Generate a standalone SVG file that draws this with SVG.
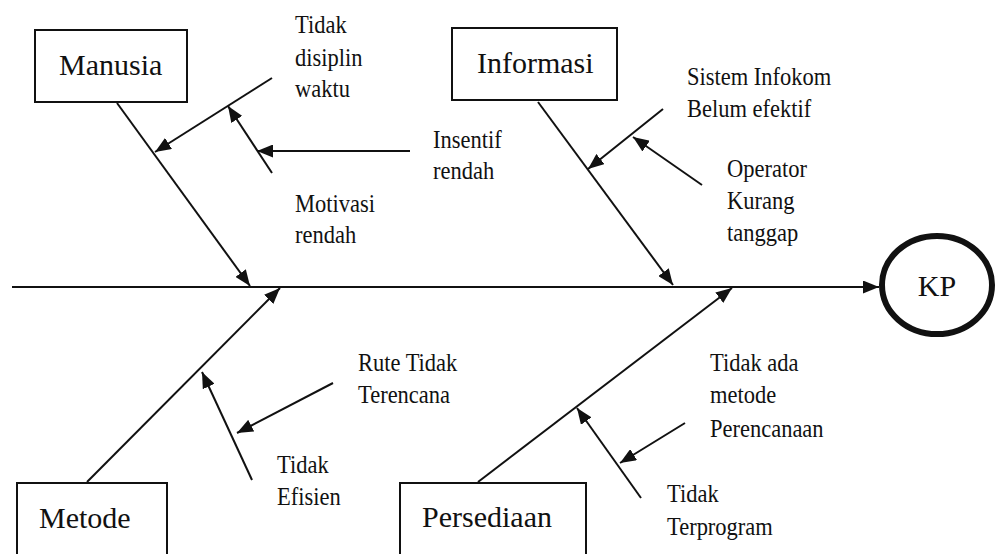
<svg xmlns="http://www.w3.org/2000/svg" width="1000" height="554" viewBox="0 0 1000 554">
<style>
.box{fill:#fff;stroke:#111;stroke-width:2}
.ln{fill:none;stroke:#111;stroke-width:2;marker-end:url(#ah)}
text{fill:#111}
</style>
<defs>
<marker id="ah" viewBox="0 0 16 13" refX="16" refY="6.5" markerWidth="16" markerHeight="13" markerUnits="userSpaceOnUse" orient="auto">
<path d="M0,0 L16,6.5 L0,13 z" fill="#111"/>
</marker>
</defs>
<rect width="1000" height="554" fill="#fff"/>
<g id="connectors">
<path class="ln" d="M12,287 L879,287"/>
<path class="ln" d="M117,103 L250,286"/>
<path class="ln" d="M272,78 L155,152"/>
<path class="ln" d="M272,173 L228,106"/>
<path class="ln" d="M410,151 L257,151"/>
<path class="ln" d="M538,102 L673,285"/>
<path class="ln" d="M663,109 L588,169"/>
<path class="ln" d="M702,185 L633,137"/>
<path class="ln" d="M87,482 L280,288"/>
<path class="ln" d="M333,383 L237,433"/>
<path class="ln" d="M252,480 L202,372"/>
<path class="ln" d="M478,482 L732,288"/>
<path class="ln" d="M685,423 L620,463"/>
<path class="ln" d="M641,498 L577,408"/>
</g>
<g font-family="Liberation Serif, Times New Roman, serif" font-size="30">
<g id="manusia">
<rect class="box" x="35" y="30" width="152" height="72"/>
<text x="59" y="75">Manusia</text>
</g>
<g id="informasi">
<rect class="box" x="452" y="28" width="165" height="72"/>
<text x="477" y="73">Informasi</text>
</g>
<g id="metode">
<rect class="box" x="17" y="483" width="150" height="80"/>
<text x="39" y="528">Metode</text>
</g>
<g id="persediaan">
<rect class="box" x="400" y="483" width="186" height="80"/>
<text x="422" y="527">Persediaan</text>
</g>
<g id="kp">
<ellipse cx="937" cy="285" rx="55" ry="49" fill="#fff" stroke="#111" stroke-width="6"/>
<text x="937" y="296" text-anchor="middle">KP</text>
</g>
</g>
<g font-family="Liberation Serif, Times New Roman, serif" font-size="25">
<g id="label-tidak-disiplin">
<text transform="translate(295 33) scale(0.9 1)"><tspan x="0" y="0">Tidak</tspan><tspan x="0" y="33">disiplin</tspan><tspan x="0" y="64">waktu</tspan></text>
</g>
<g id="label-insentif">
<text transform="translate(433 148) scale(0.9 1)"><tspan x="0" y="0">Insentif</tspan><tspan x="0" y="31">rendah</tspan></text>
</g>
<g id="label-motivasi">
<text transform="translate(295 212) scale(0.9 1)"><tspan x="0" y="0">Motivasi</tspan><tspan x="0" y="31">rendah</tspan></text>
</g>
<g id="label-sistem">
<text transform="translate(687 85) scale(0.9 1)"><tspan x="0" y="0">Sistem  Infokom</tspan><tspan x="0" y="32">Belum efektif</tspan></text>
</g>
<g id="label-operator">
<text transform="translate(727 177) scale(0.9 1)"><tspan x="0" y="0">Operator</tspan><tspan x="0" y="32">Kurang</tspan><tspan x="0" y="64">tanggap</tspan></text>
</g>
<g id="label-rute">
<text transform="translate(358 371) scale(0.9 1)"><tspan x="0" y="0">Rute Tidak</tspan><tspan x="0" y="32">Terencana</tspan></text>
</g>
<g id="label-efisien">
<text transform="translate(277 473) scale(0.9 1)"><tspan x="0" y="0">Tidak</tspan><tspan x="0" y="32">Efisien</tspan></text>
</g>
<g id="label-tidak-ada">
<text transform="translate(710 371) scale(0.9 1)"><tspan x="0" y="0">Tidak ada</tspan><tspan x="0" y="32">metode</tspan><tspan x="0" y="66">Perencanaan</tspan></text>
</g>
<g id="label-terprogram">
<text transform="translate(667 502) scale(0.9 1)"><tspan x="0" y="0">Tidak</tspan><tspan x="0" y="33">Terprogram</tspan></text>
</g>
</g>
</svg>
